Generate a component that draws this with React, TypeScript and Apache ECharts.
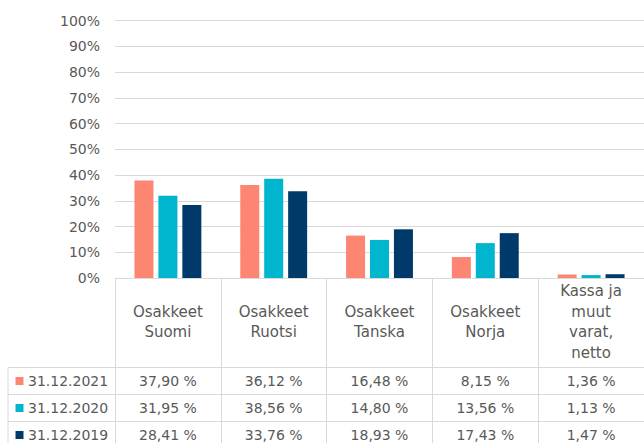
import React, { useEffect, useRef } from "react";
import * as echarts from "echarts";

const categories = ["Osakkeet\nSuomi", "Osakkeet\nRuotsi", "Osakkeet\nTanska", "Osakkeet\nNorja", "Kassa ja\nmuut\nvarat,\nnetto"];
const seriesNames = ["31.12.2021", "31.12.2020", "31.12.2019"];
const values2021 = [37.9, 36.12, 16.48, 8.15, 1.36];
const values2020 = [31.95, 38.56, 14.8, 13.56, 1.13];
const values2019 = [28.41, 33.76, 18.93, 17.43, 1.47];
const colors = ["#FC8672", "#00B5CE", "#003A6A"];
const yTicks = [0, 10, 20, 30, 40, 50, 60, 70, 80, 90, 100];

const fmt = (v: number) => v.toFixed(2).replace(".", ",") + " %";

export default function App() {
  const ref = useRef<HTMLDivElement>(null);
  useEffect(() => {
    if (!ref.current) return;
    const chart = echarts.init(ref.current, null, { renderer: "svg" });
    const textColor = "#595959";
    const lineColor = "#D9D9D9";
    const font = "DejaVu Sans";
    const allSeries = [values2021, values2020, values2019];
    const gridTop = 20.7;
    const gridBottomY = 278;
    chart.setOption({
      animation: false,
      textStyle: { fontFamily: font },
      grid: { left: 115, top: gridTop, width: 532, height: gridBottomY - gridTop },
      xAxis: {
        type: "category",
        data: categories,
        axisLine: { show: true, lineStyle: { color: lineColor, width: 1 } },
        axisTick: { show: true, length: 175, lineStyle: { color: lineColor, width: 1 } },
        axisLabel: {
          interval: 0,
          margin: 44,
          verticalAlign: "middle",
          color: textColor,
          fontSize: 15,
          lineHeight: 20.5,
          fontFamily: font,
        },
      },
      yAxis: {
        type: "value",
        min: yTicks[0],
        max: yTicks[yTicks.length - 1],
        interval: 10,
        axisLine: { show: false },
        axisTick: { show: false },
        splitLine: { lineStyle: { color: lineColor, width: 1 } },
        axisLabel: { formatter: "{value}%", color: textColor, fontSize: 14, margin: 15, fontFamily: font },
      },
      series: allSeries.map((d, i) => ({
        name: seriesNames[i],
        type: "bar",
        data: d,
        barWidth: 19,
        barGap: "26%",
        itemStyle: { color: colors[i] },
      })),
    });

    const rowTops = [367.5, 394.5, 421.5, 448.5];
    const graphics: any[] = [];
    rowTops.forEach((y) => {
      graphics.push({
        type: "line",
        shape: { x1: 8, y1: y, x2: 650, y2: y },
        style: { stroke: lineColor, lineWidth: 1 },
        silent: true,
      });
    });
    graphics.push({
      type: "line",
      shape: { x1: 8, y1: rowTops[0], x2: 8, y2: 450 },
      style: { stroke: lineColor, lineWidth: 1 },
      silent: true,
    });
    allSeries.forEach((d, r) => {
      const cy = (rowTops[r] + rowTops[r + 1]) / 2;
      graphics.push({
        type: "rect",
        shape: { x: 15.5, y: cy - 4, width: 8, height: 8 },
        style: { fill: colors[r] },
        silent: true,
      });
      graphics.push({
        type: "text",
        x: 28,
        y: cy,
        style: { text: seriesNames[r], fill: textColor, fontSize: 14, fontFamily: font, verticalAlign: "middle", align: "left" },
        silent: true,
      });
      d.forEach((v, c) => {
        const px = chart.convertToPixel({ xAxisIndex: 0 }, c) as number;
        graphics.push({
          type: "text",
          x: px,
          y: cy,
          style: { text: fmt(v), fill: textColor, fontSize: 14, fontFamily: font, verticalAlign: "middle", align: "center" },
          silent: true,
        });
      });
    });
    chart.setOption({ graphic: graphics });
    return () => chart.dispose();
  }, []);
  return <div ref={ref} style={{ position: "fixed", left: 0, top: 0, width: 644, height: 443, background: "#fff" }} />;
}
